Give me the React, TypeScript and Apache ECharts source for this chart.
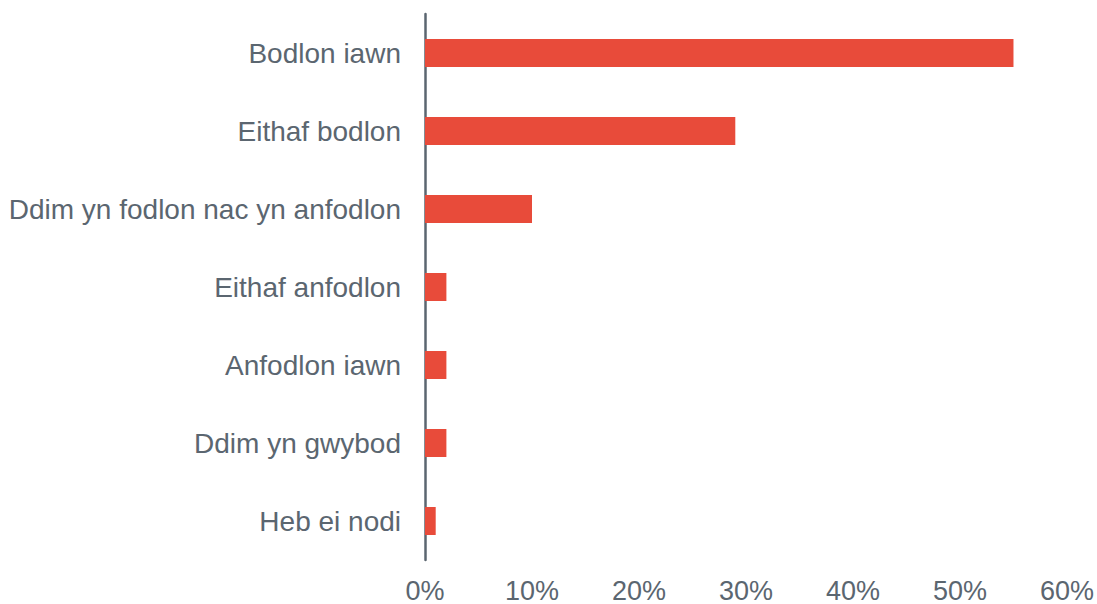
import React, { useEffect, useRef } from "react";
import * as echarts from "echarts";

const categories = [
  "Bodlon iawn",
  "Eithaf bodlon",
  "Ddim yn fodlon nac yn anfodlon",
  "Eithaf anfodlon",
  "Anfodlon iawn",
  "Ddim yn gwybod",
  "Heb ei nodi",
];
const values = [55, 29, 10, 2, 2, 2, 1];
const xTicks = [0, 10, 20, 30, 40, 50, 60];

export default function App() {
  const ref = useRef<HTMLDivElement>(null);
  useEffect(() => {
    if (!ref.current) return;
    const chart = echarts.init(ref.current, null, { renderer: "svg" });
    const textColor = "#5B6670";
    chart.setOption({
      animation: false,
      grid: { left: 425, right: 30, top: 14, bottom: 43, containLabel: false },
      xAxis: {
        type: "value",
        min: xTicks[0],
        max: xTicks[xTicks.length - 1],
        interval: 10,
        axisLine: { show: false },
        axisTick: { show: false },
        splitLine: { show: false },
        axisLabel: {
          formatter: (v: number) => `${v}%`,
          color: textColor,
          fontSize: 27,
          fontFamily: "Liberation Sans, Arial, sans-serif",
          margin: 17,
        },
      },
      yAxis: {
        type: "category",
        inverse: true,
        data: categories,
        axisLine: { show: true, lineStyle: { color: "#5B6670", width: 2.5 } },
        axisTick: { show: false },
        axisLabel: {
          color: textColor,
          fontSize: 28,
          fontFamily: "Liberation Sans, Arial, sans-serif",
          margin: 24,
        },
      },
      series: [
        {
          type: "bar",
          data: values,
          barWidth: 28,
          itemStyle: { color: "#E84B3A" },
          silent: true,
        },
      ],
    });
    return () => chart.dispose();
  }, []);
  return (
    <div
      ref={ref}
      style={{ position: "fixed", left: 0, top: 0, width: 1097, height: 604, background: "#fff" }}
    />
  );
}
